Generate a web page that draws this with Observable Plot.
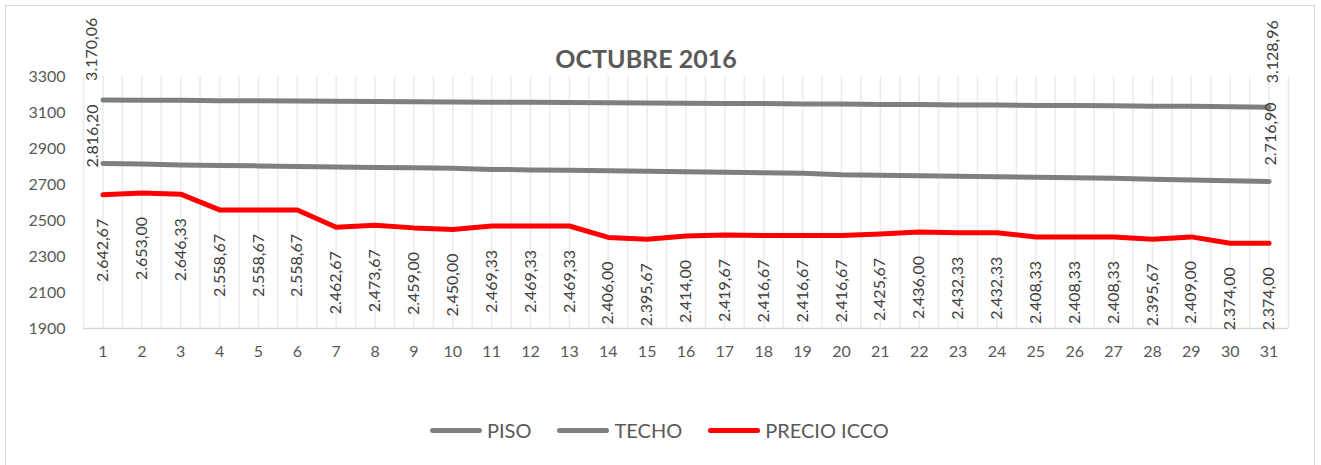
<!DOCTYPE html>
<html>
<head>
<meta charset="utf-8">
<script src="https://cdn.jsdelivr.net/npm/d3@7"></script>
<script src="https://cdn.jsdelivr.net/npm/@observablehq/plot@0.6"></script>
<style>
  html, body { margin: 0; padding: 0; background: #fff; }
  #wrap { position: relative; width: 1321px; height: 465px; overflow: hidden; font-family: Lato, "Open Sans", sans-serif; }
  #border { position: absolute; left: 5px; top: 5px; width: 1310px; height: 470px; border: 1.5px solid #d9d9d9; box-sizing: border-box; }
  #title { position: absolute; left: 0; top: 46px; width: 1292px; text-align: center; font-size: 25px; line-height: 24px; font-weight: 700; color: #595959; }
  #chart { position: absolute; left: 0; top: 0; }
  #legend { position: absolute; left: 430px; top: 418px; height: 24px; display: flex; align-items: center; font-size: 20px; color: #595959; }
  .item { display: flex; align-items: center; margin-right: 26px; }
  .sw { width: 52px; height: 5px; border-radius: 3px; margin-right: 5px; }
</style>
</head>
<body>
<div id="wrap">
  <div id="border"></div>
  <div id="chart"></div>
  <div id="title">OCTUBRE 2016</div>
  <div id="legend"></div>
</div>
<script>
// ---- data ----
const days = [1,2,3,4,5,6,7,8,9,10,11,12,13,14,15,16,17,18,19,20,21,22,23,24,25,26,27,28,29,30,31];
const seriesNames = ["PISO", "TECHO", "PRECIO ICCO"];
const seriesColors = ["#7f7f7f", "#7f7f7f", "#ff0000"];
const techo = [3170.06,3168.5,3168.4,3165.8,3165.5,3163.2,3162.8,3160.5,3160.0,3157.9,3157.5,3157.2,3155.1,3154.7,3152.4,3152.0,3150.0,3149.6,3147.3,3146.9,3144.8,3144.4,3142.1,3141.7,3139.5,3139.1,3137.0,3134.6,3134.2,3131.4,3128.96];
const piso = [2816.20,2813.5,2808.7,2806.2,2803.4,2800.5,2797.6,2794.9,2792.4,2789.6,2784.0,2781.2,2778.5,2775.9,2773.0,2770.6,2767.8,2765.0,2762.4,2754.6,2751.9,2749.2,2746.3,2743.5,2740.7,2738.0,2735.2,2728.6,2725.0,2721.0,2716.90];
const precio = [2642.67,2653.00,2646.33,2558.67,2558.67,2558.67,2462.67,2473.67,2459.00,2450.00,2469.33,2469.33,2469.33,2406.00,2395.67,2414.00,2419.67,2416.67,2416.67,2416.67,2425.67,2436.00,2432.33,2432.33,2408.33,2408.33,2408.33,2395.67,2409.00,2374.00,2374.00];
const yTicks = [1900,2100,2300,2500,2700,2900,3100,3300];

// ---- formatting ----
const loc = d3.formatLocale({decimal: ",", thousands: ".", grouping: [3], currency: ["", ""]});
const fmt = loc.format(",.2f");

const toRows = (arr) => arr.map((v, i) => ({day: days[i], v}));
const pisoRows = toRows(piso);
const techoRows = toRows(techo);
const precioRows = toRows(precio);
const first = (rows) => [rows[0]];
const last = (rows) => [rows[rows.length - 1]];

const W = 1321, H = 372;
const ml = 83, mr = 33, mt = 76, mb = H - 328;
const step = (W - ml - mr) / days.length;
const labelColor = "#404040";

const plot = Plot.plot({
  width: W, height: H,
  marginLeft: ml, marginRight: mr, marginTop: mt, marginBottom: mb,
  style: {fontFamily: "Lato, 'Open Sans', sans-serif", fontSize: "16px", color: "#595959", background: "transparent", overflow: "visible"},
  x: {type: "point", domain: days, padding: 0.5, round: false, label: null},
  y: {domain: [1900, 3300], label: null},
  marks: [
    Plot.ruleX(days, {stroke: "#ebebeb", strokeWidth: 1.5}),
    Plot.ruleX(days, {dx: -step / 2, stroke: "#ebebeb", strokeWidth: 1.5}),
    Plot.ruleX(last(days), {dx: step / 2, stroke: "#ebebeb", strokeWidth: 1.5}),
    Plot.ruleY([1900], {stroke: "#d9d9d9", strokeWidth: 1.5}),
    Plot.axisY({ticks: yTicks, tickSize: 0, tickPadding: 18, tickFormat: (d) => `${d}`, label: null, fill: "#595959"}),
    Plot.axisX({tickSize: 0, tickPadding: 17, label: null, fill: "#595959"}),
    Plot.line(techoRows, {x: "day", y: "v", stroke: seriesColors[1], strokeWidth: 5, strokeLinecap: "round", strokeLinejoin: "round"}),
    Plot.line(pisoRows, {x: "day", y: "v", stroke: seriesColors[0], strokeWidth: 5, strokeLinecap: "round", strokeLinejoin: "round"}),
    Plot.line(precioRows, {x: "day", y: "v", stroke: seriesColors[2], strokeWidth: 5, strokeLinecap: "round", strokeLinejoin: "round"}),
    // PRECIO labels below points
    Plot.text(precioRows, {x: "day", y: "v", text: (d) => fmt(d.v), rotate: -90, textAnchor: "end", lineAnchor: "middle", dy: 24, fill: labelColor, fontSize: 16}),
    // TECHO first/last labels above
    Plot.text(first(techoRows), {x: "day", y: "v", text: (d) => fmt(d.v), rotate: -90, textAnchor: "start", lineAnchor: "middle", dx: -11, dy: -19, fill: labelColor, fontSize: 16}),
    Plot.text(last(techoRows), {x: "day", y: "v", text: (d) => fmt(d.v), rotate: -90, textAnchor: "start", lineAnchor: "middle", dx: 4, dy: -24, fill: labelColor, fontSize: 16}),
    // PISO first/last labels
    Plot.text(first(pisoRows), {x: "day", y: "v", text: (d) => fmt(d.v), rotate: -90, textAnchor: "start", lineAnchor: "middle", dx: -10, dy: 4, fill: labelColor, fontSize: 16}),
    Plot.text(last(pisoRows), {x: "day", y: "v", text: (d) => fmt(d.v), rotate: -90, textAnchor: "start", lineAnchor: "middle", dx: 2, dy: -16, fill: labelColor, fontSize: 16})
  ]
});
document.getElementById("chart").appendChild(plot);

// legend
const legend = document.getElementById("legend");
seriesNames.forEach((name, i) => {
  const item = document.createElement("div");
  item.className = "item";
  const sw = document.createElement("div");
  sw.className = "sw";
  sw.style.background = seriesColors[i];
  const t = document.createElement("span");
  t.textContent = name;
  item.appendChild(sw);
  item.appendChild(t);
  legend.appendChild(item);
});
</script>
</body>
</html>
